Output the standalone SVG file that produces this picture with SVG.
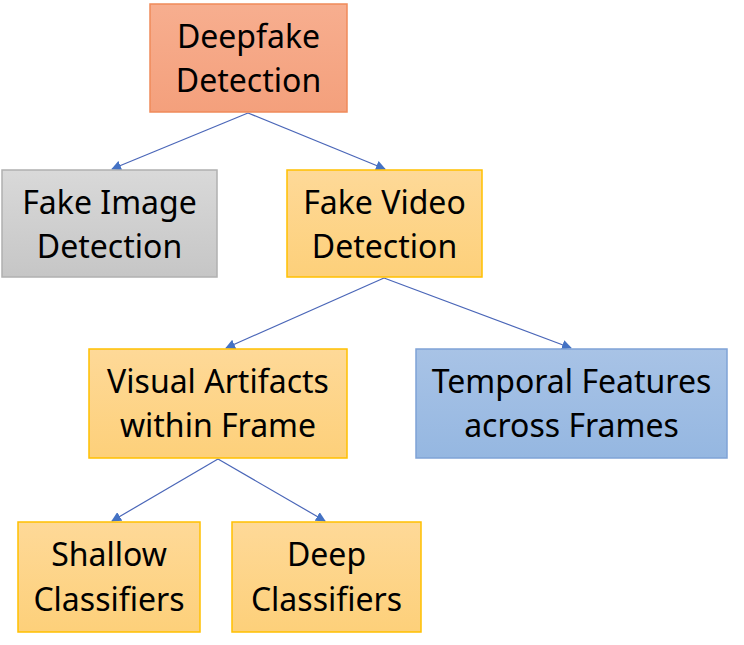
<svg xmlns="http://www.w3.org/2000/svg" width="744" height="645" viewBox="0 0 744 645">
<defs>
<linearGradient id="gOrange" x1="0" y1="0" x2="0" y2="1"><stop offset="0" stop-color="#f7ae8f"/><stop offset="1" stop-color="#f4a07c"/></linearGradient>
<linearGradient id="gGray" x1="0" y1="0" x2="0" y2="1"><stop offset="0" stop-color="#d9d9d9"/><stop offset="1" stop-color="#c6c6c6"/></linearGradient>
<linearGradient id="gYellow" x1="0" y1="0" x2="0" y2="1"><stop offset="0" stop-color="#fed998"/><stop offset="1" stop-color="#fdd07a"/></linearGradient>
<linearGradient id="gBlue" x1="0" y1="0" x2="0" y2="1"><stop offset="0" stop-color="#a8c3e6"/><stop offset="1" stop-color="#95b7e1"/></linearGradient>
<marker id="arr" viewBox="0 0 10 10" refX="9" refY="5" markerWidth="10" markerHeight="10" markerUnits="userSpaceOnUse" orient="auto"><path d="M0,0 L10,5 L0,10 Z" fill="#4472c4"/></marker>
</defs>
<style>
.t{font-family:"Noto Sans","Open Sans",sans-serif;font-size:32px;fill:#000;text-anchor:middle}
.c{stroke:#4a66b8;stroke-width:1.2;fill:none;marker-end:url(#arr)}
</style>
<rect width="744" height="645" fill="#fff"/>
<g id="connectors">
<line class="c" x1="248" y1="113" x2="112" y2="169"/>
<line class="c" x1="248" y1="113" x2="385" y2="169"/>
<line class="c" x1="384" y1="278" x2="226" y2="348"/>
<line class="c" x1="384" y1="278" x2="571" y2="348"/>
<line class="c" x1="218" y1="459" x2="112" y2="521"/>
<line class="c" x1="218" y1="459" x2="325" y2="521"/>
</g>
<g id="deepfake">
<rect x="150" y="4" width="197" height="108" fill="url(#gOrange)" stroke="#f08a5a" stroke-width="1.5"/>
<text class="t" x="248.5" y="48">Deepfake</text>
<text class="t" x="248.5" y="92">Detection</text>
</g>
<g id="fakeimage">
<rect x="2" y="170" width="215" height="107" fill="url(#gGray)" stroke="#b0b0b0" stroke-width="1.5"/>
<text class="t" x="109.5" y="214">Fake Image</text>
<text class="t" x="109.5" y="258">Detection</text>
</g>
<g id="fakevideo">
<rect x="287" y="170" width="195" height="107" fill="url(#gYellow)" stroke="#ffc000" stroke-width="1.5"/>
<text class="t" x="384.5" y="214">Fake Video</text>
<text class="t" x="384.5" y="258">Detection</text>
</g>
<g id="visual">
<rect x="89" y="349" width="258" height="109" fill="url(#gYellow)" stroke="#ffc000" stroke-width="1.5"/>
<text class="t" x="218" y="393">Visual Artifacts</text>
<text class="t" x="218" y="437">within Frame</text>
</g>
<g id="temporal">
<rect x="416" y="349" width="311" height="109" fill="url(#gBlue)" stroke="#7fa3d6" stroke-width="1.5"/>
<text class="t" x="571.5" y="393">Temporal Features</text>
<text class="t" x="571.5" y="437">across Frames</text>
</g>
<g id="shallow">
<rect x="18" y="522" width="182" height="110" fill="url(#gYellow)" stroke="#ffc000" stroke-width="1.5"/>
<text class="t" x="109" y="566">Shallow</text>
<text class="t" x="109" y="611">Classifiers</text>
</g>
<g id="deep">
<rect x="232" y="522" width="189" height="110" fill="url(#gYellow)" stroke="#ffc000" stroke-width="1.5"/>
<text class="t" x="326.5" y="566">Deep</text>
<text class="t" x="326.5" y="611">Classifiers</text>
</g>
</svg>
